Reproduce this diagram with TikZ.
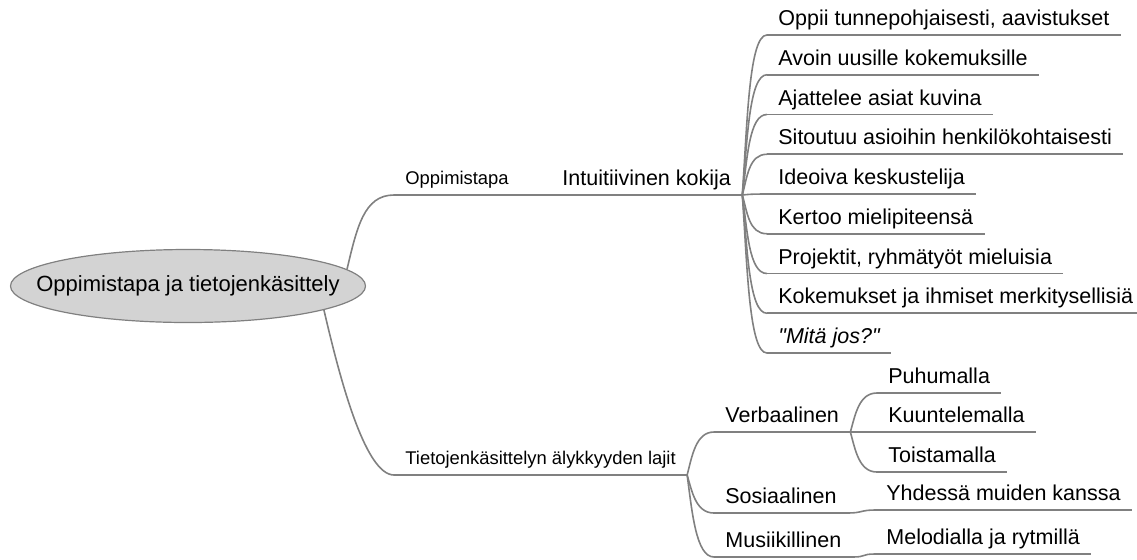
\documentclass[tikz,border=0pt]{standalone}
\usepackage{fontspec}
\setmainfont{Liberation Sans}
\usetikzlibrary{shapes.geometric}
\definecolor{linegray}{RGB}{128,128,128}
\definecolor{rootfill}{RGB}{211,211,211}
\tikzset{
  mapline/.style={draw=linegray, line width=0.8pt},
  topic/.style={anchor=south west, inner xsep=5.5pt, inner ysep=0pt, text depth=4.5pt, font=\fontsize{10.75}{12}\selectfont},
  subtopic/.style={topic, text depth=5pt, font=\fontsize{9.2}{11}\selectfont},
  rootnode/.style={ellipse, draw=linegray, fill=rootfill, line width=0.6pt, minimum width=177.5pt, minimum height=36.5pt, inner sep=0pt}
}
\begin{document}
\begin{tikzpicture}[x=0.5pt,y=-0.5pt]
\useasboundingbox (0,0) rectangle (1137,559);
%Root of the map
\node[rootnode, label={[font=\fontsize{11}{13}\selectfont]center:Oppimistapa ja tietojenkäsittely}] (root) at (188,286) {};

%First level
\node[subtopic] (opp) at (394,195) {Oppimistapa};
\node[subtopic] (tie) at (394,475) {Tietojenkäsittelyn älykkyyden lajit};
\node[topic] (kok) at (551,195) {Intuitiivinen kokija};
\draw[mapline] (root.6) .. controls +(10,-42) and +(-30,0) .. (opp.south west);
\draw[mapline] (root.-10) .. controls +(14,60) and +(-30,0) .. (tie.south west);
\draw[mapline] (opp.south east) -- (kok.south west);

%Features of the intuitive learner
\foreach \i/\y/\t in {1/35/{Oppii tunnepohjaisesti, aavistukset},2/74.75/Avoin uusille kokemuksille,
    3/114.5/Ajattelee asiat kuvina,4/154.25/Sitoutuu asioihin henkilökohtaisesti,5/194/Ideoiva keskustelija,
    6/233.75/Kertoo mielipiteensä,7/273.5/{Projektit, ryhmätyöt mieluisia},
    8/313.25/Kokemukset ja ihmiset merkitysellisiä,9/353/{\itshape\textquotedbl Mitä jos?\textquotedbl}}
    {
    \node[topic] (l\i) at (767,\y) {\t};
    \draw[mapline] (kok.south east) .. controls +(5,{0.45*(\y-195)}) and +(-18,0) .. (l\i.south west);
    }

%Kinds of intelligence
\foreach \n/\y/\t in {verb/432/Verbaalinen,sos/513/Sosiaalinen,mus/557/Musiikillinen}
    {
    \node[topic] (\n) at (714,\y) {\t};
    \draw[mapline] (tie.south east) .. controls +(5,{0.45*(\y-475)}) and +(-18,0) .. (\n.south west);
    }
\foreach \n/\y/\t in {puh/393/Puhumalla,kuu/432/Kuuntelemalla,toi/472/Toistamalla}
    {
    \node[topic] (\n) at (877,\y) {\t};
    \draw[mapline] (verb.south east) .. controls +(5,{0.45*(\y-432)}) and +(-18,0) .. (\n.south west);
    }
\node[topic] (yhd) at (875,510) {Yhdessä muiden kanssa};
\node[topic] (mel) at (875,554) {Melodialla ja rytmillä};
\draw[mapline] (sos.south east) .. controls +(14,0) and +(-14,0) .. (yhd.south west);
\draw[mapline] (mus.south east) .. controls +(14,0) and +(-14,0) .. (mel.south west);

%Underlines
\foreach \n in {opp,tie,kok,verb,sos,mus,puh,kuu,toi,yhd,mel,l1,l2,l3,l4,l5,l6,l7,l8,l9}
    \draw[mapline] (\n.south west) -- (\n.south east);
\end{tikzpicture}
\end{document}
